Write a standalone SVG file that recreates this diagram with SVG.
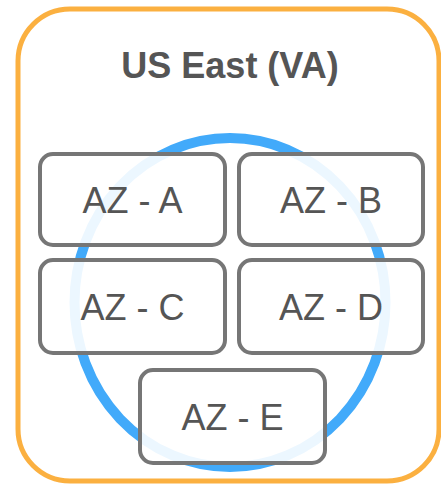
<svg xmlns="http://www.w3.org/2000/svg" width="441" height="487" viewBox="0 0 441 487">
<style>
.az rect{fill:#fff;fill-opacity:0.9;stroke:#767676;stroke-width:4}
.az text{font-family:"Liberation Sans",Arial,sans-serif;font-size:36px;fill:#555;text-anchor:middle}
.title{font-family:"Liberation Sans",Arial,sans-serif;font-size:36px;font-weight:bold;fill:#555;text-anchor:middle}
</style>
<rect width="441" height="487" fill="#fff"/>
<g id="region">
<rect x="18" y="9" width="421" height="472" rx="52" ry="52" fill="#fff" stroke="#FBB040" stroke-width="5"/>
<text class="title" x="230" y="78">US East (VA)</text>
</g>
<g id="ring">
<ellipse cx="230" cy="302.5" rx="155.5" ry="164.5" fill="none" stroke="#42AAFA" stroke-width="10"/>
</g>
<g id="connectors"></g>
<g id="az-a" class="az"><rect x="40" y="154" width="185" height="91" rx="13"/><text x="132.5" y="213">AZ - A</text></g>
<g id="az-b" class="az"><rect x="239" y="154" width="184" height="91" rx="13"/><text x="331" y="213">AZ - B</text></g>
<g id="az-c" class="az"><rect x="40" y="260" width="185" height="93" rx="13"/><text x="132.5" y="319.5">AZ - C</text></g>
<g id="az-d" class="az"><rect x="239" y="260" width="184" height="93" rx="13"/><text x="331" y="319.5">AZ - D</text></g>
<g id="az-e" class="az"><rect x="140" y="370" width="185" height="93" rx="13"/><text x="232.5" y="429.5">AZ - E</text></g>
</svg>
